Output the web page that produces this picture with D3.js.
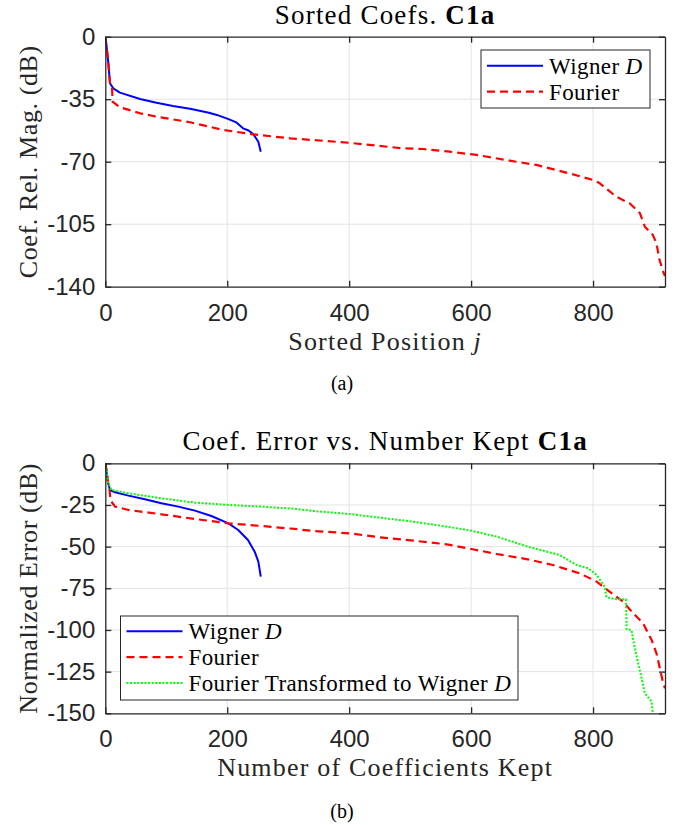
<!DOCTYPE html>
<html>
<head>
<meta charset="utf-8">
<script src="https://cdn.jsdelivr.net/npm/d3@7"></script>
<style>
  body { margin: 0; background: #fff; }
  svg { display: block; }
</style>
</head>
<body>
<div id="chart"></div>
<script>
// Sorted coefficient magnitudes, panel (a): [sorted position j, dB]
var sortedWigner = [[0,0],[2,-5],[5,-14.9],[7.7,-26.1],[13,-28.9],[24,-31.3],[57,-34.9],[84,-37],[111,-38.8],[139,-40.3],[170,-42.6],[183,-43.8],[200,-45.9],[215,-48],[226,-51.3],[235,-52.5],[243,-54.7],[251,-58.8],[255,-64.4]];
var sortedFourier = [[0,0],[3,-8],[5,-15],[7.7,-26],[11,-28],[12,-36.4],[24,-39.5],[57,-42.9],[84,-44.8],[111,-46.3],[139,-47.9],[193,-52.2],[243,-54.7],[303,-56.9],[400,-59.4],[488,-62.5],[521,-62.9],[565,-64.4],[609,-66.2],[663,-69.4],[707,-71.8],[756,-76.1],[800,-80.2],[811,-82.1],[838,-89.6],[860,-93.3],[877,-98.9],[885,-106.4],[898,-111],[904,-115.7],[909,-125],[916,-132.5],[918,-134]];

// Error vs. number kept, panel (b): [coefficients kept, dB]
var errWigner = [[0,0],[2,-5],[4,-11],[7.7,-16],[16,-17.4],[38,-19.4],[65,-21.6],[92,-24],[120,-26],[147,-28.4],[174,-31.6],[202,-36],[218,-40],[234,-46],[245,-53],[251,-59],[255,-68]];
var errFourier = [[0,0],[3,-6],[5,-13],[7,-16],[8,-20],[10,-23],[16,-26],[38,-28],[92,-30.6],[147,-33.4],[202,-36],[256,-37.6],[311,-39.4],[341,-40.6],[400,-42],[450,-44.4],[505,-46.4],[560,-48.6],[600,-51.4],[642,-54.4],[693,-57.6],[734,-61],[778,-66],[806,-71],[827,-77],[849,-83],[866,-90],[882,-96],[896,-106],[904,-114],[909,-122],[915,-132],[918,-135]];
var errTransformed = [[0,0],[3,-6],[4,-11],[10,-16],[38,-18],[92,-21],[147,-23.6],[202,-25],[256,-26],[311,-27.3],[341,-28.6],[400,-30.4],[450,-32.6],[505,-35],[560,-38],[600,-40.4],[642,-44],[693,-50],[745,-55],[773,-61],[792,-63],[806,-67],[819,-74],[822,-80.4],[838,-81.6],[854,-81.6],[855,-99.6],[863,-100],[868,-110],[874,-120],[879,-128],[885,-138],[896,-143],[898,-150]];

var xTicks = [0, 200, 400, 600, 800];
var yTicksA = [0, -35, -70, -105, -140];
var yTicksB = [0, -25, -50, -75, -100, -125, -150];
var xMax = 918;

var W = 684, H = 825;
var plotLeft = 105.3, plotRight = 665;
var axisCol = '#262626';
var gridCol = '#e3e3e3';
var serif = '"Liberation Serif", "Times New Roman", serif';
var sans = '"Liberation Sans", Arial, sans-serif';

var styles = {
  wigner: { stroke: '#0000ff', dash: null, width: 2 },
  fourier: { stroke: '#ff0000', dash: '8,5', width: 2.2 },
  transformed: { stroke: '#00ff00', dash: '2,1.6', width: 2 }
};

var svg = d3.select('#chart').append('svg:svg')
  .attr('width', W)
  .attr('height', H);

function addRichText(sel, parts) {
  parts.forEach(function(p) {
    let t = sel.append('svg:tspan').text(p.t);
    if(p.b) t.attr('font-weight', 'bold');
    if(p.i) t.attr('font-style', 'italic');
  });
}

function drawPanel(opts) {
  let x = d3.scaleLinear().domain([0, xMax]).range([plotLeft, plotRight]);
  let y = d3.scaleLinear().domain([opts.yTicks[0], opts.yTicks[opts.yTicks.length - 1]]).range([opts.top, opts.bottom]);
  let g = svg.append('svg:g').attr('class', 'panel');

  // grid
  g.append('svg:g').selectAll('line.vx')
    .data(xTicks.slice(1))
    .join('svg:line')
    .attr('x1', d => x(d)).attr('x2', d => x(d))
    .attr('y1', opts.top).attr('y2', opts.bottom)
    .attr('stroke', gridCol).attr('stroke-width', 1);
  g.append('svg:g').selectAll('line.hy')
    .data(opts.yTicks.slice(1, -1))
    .join('svg:line')
    .attr('x1', plotLeft).attr('x2', plotRight)
    .attr('y1', d => y(d)).attr('y2', d => y(d))
    .attr('stroke', gridCol).attr('stroke-width', 1);

  // curves
  let clipId = 'clip' + opts.id;
  g.append('svg:clipPath').attr('id', clipId)
    .append('svg:rect')
    .attr('x', plotLeft).attr('y', opts.top - 2)
    .attr('width', plotRight - plotLeft).attr('height', opts.bottom - opts.top + 2);
  let line = d3.line().x(d => x(d[0])).y(d => y(d[1]));
  g.append('svg:g').attr('clip-path', 'url(#' + clipId + ')')
    .selectAll('path')
    .data(opts.series)
    .join('svg:path')
    .attr('d', d => line(d.values))
    .attr('fill', 'none')
    .attr('stroke', d => styles[d.key].stroke)
    .attr('stroke-width', d => styles[d.key].width)
    .attr('stroke-dasharray', d => styles[d.key].dash)
    .attr('stroke-linejoin', 'round');

  // axes, ticks inside on all four sides
  let tickLen = -6;
  let noLabel = () => '';
  let styleAxis = function(a) {
    a.select('.domain').attr('stroke', axisCol).attr('stroke-width', 1.3);
    a.selectAll('.tick line').attr('stroke', axisCol).attr('stroke-width', 1.3);
    a.selectAll('text').attr('fill', axisCol).attr('font-family', sans).attr('font-size', 24);
  };
  g.append('svg:g').attr('transform', 'translate(0,' + opts.bottom + ')')
    .call(d3.axisBottom(x).tickValues(xTicks).tickSizeInner(tickLen).tickSizeOuter(0).tickPadding(17).tickFormat(d => String(d)))
    .call(styleAxis);
  g.append('svg:g').attr('transform', 'translate(0,' + opts.top + ')')
    .call(d3.axisTop(x).tickValues(xTicks).tickSizeInner(tickLen).tickSizeOuter(0).tickFormat(noLabel))
    .call(styleAxis);
  g.append('svg:g').attr('transform', 'translate(' + plotLeft + ',0)')
    .call(d3.axisLeft(y).tickValues(opts.yTicks).tickSizeInner(tickLen).tickSizeOuter(0).tickPadding(10).tickFormat(d => String(d)))
    .call(styleAxis);
  g.append('svg:g').attr('transform', 'translate(' + plotRight + ',0)')
    .call(d3.axisRight(y).tickValues(opts.yTicks).tickSizeInner(tickLen).tickSizeOuter(0).tickFormat(noLabel))
    .call(styleAxis);

  // title and labels
  let title = g.append('svg:text')
    .attr('x', (plotLeft + plotRight) / 2).attr('y', opts.top - 13)
    .attr('text-anchor', 'middle')
    .attr('font-family', serif).attr('font-size', 27).attr('letter-spacing', 1.2)
    .attr('fill', '#000');
  addRichText(title, opts.title);

  let xl = g.append('svg:text')
    .attr('x', (plotLeft + plotRight) / 2).attr('y', opts.bottom + 63)
    .attr('text-anchor', 'middle')
    .attr('font-family', serif).attr('font-size', 26).attr('letter-spacing', 1.2)
    .attr('fill', axisCol);
  addRichText(xl, opts.xLabel);

  g.append('svg:text')
    .attr('transform', 'translate(37,' + ((opts.top + opts.bottom) / 2) + ') rotate(-90)')
    .attr('text-anchor', 'middle')
    .attr('font-family', serif).attr('font-size', 26).attr('letter-spacing', 0.6)
    .attr('fill', axisCol)
    .text(opts.yLabel);

  g.append('svg:text')
    .attr('x', W / 2).attr('y', opts.captionY)
    .attr('text-anchor', 'middle')
    .attr('font-family', serif).attr('font-size', 20)
    .attr('fill', '#000')
    .text(opts.caption);

  // legend
  let lg = opts.legend;
  let box = g.append('svg:g').attr('class', 'legend');
  box.append('svg:rect')
    .attr('x', lg.x).attr('y', lg.y)
    .attr('width', lg.w).attr('height', lg.h)
    .attr('fill', '#fff').attr('stroke', axisCol).attr('stroke-width', 1);
  let items = box.selectAll('g.item')
    .data(opts.series)
    .join('svg:g')
    .attr('class', 'item')
    .attr('transform', (d, i) => 'translate(' + lg.x + ',' + (lg.y + lg.first + i * lg.step) + ')');
  items.append('svg:line')
    .attr('x1', 6).attr('x2', 62)
    .attr('y1', 0).attr('y2', 0)
    .attr('stroke', d => styles[d.key].stroke)
    .attr('stroke-width', d => styles[d.key].width)
    .attr('stroke-dasharray', d => styles[d.key].dash);
  items.append('svg:text')
    .attr('x', 68).attr('y', 0)
    .attr('dy', '0.35em')
    .attr('font-family', serif).attr('font-size', 23).attr('letter-spacing', 0.4)
    .attr('fill', '#000')
    .each(function(d) { addRichText(d3.select(this), d.label); });
}

drawPanel({
  id: 'a',
  top: 36.7, bottom: 286.7,
  yTicks: yTicksA,
  title: [{t: 'Sorted Coefs. '}, {t: 'C1a', b: true}],
  xLabel: [{t: 'Sorted Position '}, {t: 'j', i: true}],
  yLabel: 'Coef. Rel. Mag. (dB)',
  caption: '(a)', captionY: 390,
  legend: { x: 481, y: 50, w: 169, h: 58, first: 15.7, step: 26 },
  series: [
    { key: 'wigner', values: sortedWigner, label: [{t: 'Wigner '}, {t: 'D', i: true}] },
    { key: 'fourier', values: sortedFourier, label: [{t: 'Fourier'}] }
  ]
});

drawPanel({
  id: 'b',
  top: 463.3, bottom: 713.3,
  yTicks: yTicksB,
  title: [{t: 'Coef. Error vs. Number Kept '}, {t: 'C1a', b: true}],
  xLabel: [{t: 'Number of Coefficients Kept'}],
  yLabel: 'Normalized Error (dB)',
  caption: '(b)', captionY: 818,
  legend: { x: 120.5, y: 616, w: 397.5, h: 84, first: 15.3, step: 25.9 },
  series: [
    { key: 'wigner', values: errWigner, label: [{t: 'Wigner '}, {t: 'D', i: true}] },
    { key: 'fourier', values: errFourier, label: [{t: 'Fourier'}] },
    { key: 'transformed', values: errTransformed, label: [{t: 'Fourier Transformed to Wigner '}, {t: 'D', i: true}] }
  ]
});
</script>
</body>
</html>
